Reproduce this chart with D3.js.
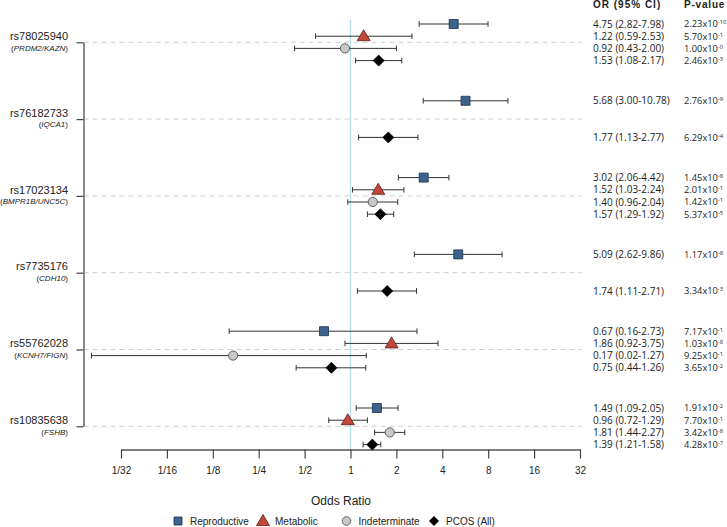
<!DOCTYPE html>
<html>
<head>
<meta charset="utf-8">
<script src="https://cdn.jsdelivr.net/npm/d3@7"></script>
<style>
  html, body { margin: 0; padding: 0; background: #fff; }
  svg { display: block; }
</style>
</head>
<body>
<svg id="chart" width="727" height="527"></svg>
<script>
// ---------------- DATA ----------------
const snps  = ["rs78025940", "rs76182733", "rs17023134", "rs7735176", "rs55762028", "rs10835638"];
const genes = ["PRDM2/KAZN", "IQCA1", "BMPR1B/UNC5C", "CDH10", "KCNH7/FIGN", "FSHB"];
const seriesNames = ["Reproductive", "Metabolic", "Indeterminate", "PCOS (All)"];

const reproOR = [4.75, 5.68, 3.02, 5.09, 0.67, 1.49];
const reproLo = [2.82, 3.00, 2.06, 2.62, 0.16, 1.09];
const reproHi = [7.98, 10.78, 4.42, 9.86, 2.73, 2.05];
const reproP  = ["2.23|-10", "2.76|-9", "1.45|-8", "1.17|-8", "7.17|-1", "1.91|-2"];

const metabOR = [1.22, null, 1.52, null, 1.86, 0.96];
const metabLo = [0.59, null, 1.03, null, 0.92, 0.72];
const metabHi = [2.53, null, 2.24, null, 3.75, 1.29];
const metabP  = ["5.70|-1", null, "2.01|-1", null, "1.03|-8", "7.70|-1"];

const indetOR = [0.92, null, 1.40, null, 0.17, 1.81];
const indetLo = [0.43, null, 0.96, null, 0.02, 1.44];
const indetHi = [2.00, null, 2.04, null, 1.27, 2.27];
const indetP  = ["1.00|-0", null, "1.42|-1", null, "9.25|-1", "3.42|-8"];

const pcosOR = [1.53, 1.77, 1.57, 1.74, 0.75, 1.39];
const pcosLo = [1.08, 1.13, 1.29, 1.11, 0.44, 1.21];
const pcosHi = [2.17, 2.77, 1.92, 2.71, 1.26, 1.58];
const pcosP  = ["2.46|-3", "6.29|-4", "5.37|-5", "3.34|-3", "3.65|-2", "4.28|-7"];

const tickValues = [1/32, 1/16, 1/8, 1/4, 1/2, 1, 2, 4, 8, 16, 32];
const tickLabels = ["1/32", "1/16", "1/8", "1/4", "1/2", "1", "2", "4", "8", "16", "32"];

// ---------------- BUILD ROWS ----------------
const seriesData = [
  [reproOR, reproLo, reproHi, reproP],
  [metabOR, metabLo, metabHi, metabP],
  [indetOR, indetLo, indetHi, indetP],
  [pcosOR, pcosLo, pcosHi, pcosP]
];
const rows = [];
snps.forEach((snp, i) => {
  seriesData.forEach((s, k) => {
    if (s[0][i] != null) {
      rows.push({snp, series: k, or: s[0][i], lo: s[1][i], hi: s[2][i], p: s[3][i]});
    }
  });
});

// ---------------- LAYOUT ----------------
const svg = d3.select("#chart");
const x = d3.scaleLog().base(2).domain([1/32, 32]).range([121, 580]);
const y = d3.scalePoint().domain(snps).range([42.3, 426.3]);
const rowStep = 12.2;
const rowY = d => y(d.snp) + (d.series - 1.5) * rowStep;
const axisY = 449.5;
const leftX = 83.5;

const colors = {
  repro: "#3c6390", reproStroke: "#1d2f47",
  metab: "#c0473a", metabStroke: "#5a1e16",
  indet: "#c8c8c8", indetStroke: "#555",
  pcos: "#000"
};

// gridlines
svg.append("g").selectAll("line").data(snps).join("line")
  .attr("x1", leftX).attr("x2", 582)
  .attr("y1", d => y(d)).attr("y2", d => y(d))
  .attr("stroke", "#cfcfcf").attr("stroke-width", 1)
  .attr("stroke-dasharray", "5,4");

// reference line at OR = 1
svg.append("line")
  .attr("x1", x(1)).attr("x2", x(1))
  .attr("y1", 20).attr("y2", axisY)
  .attr("stroke", "#b5dff0").attr("stroke-width", 1.3);

// left axis
const yAxis = svg.append("g")
  .attr("transform", `translate(${leftX},0)`)
  .call(d3.axisLeft(y).tickSize(7).tickSizeOuter(0).tickFormat(""));
yAxis.select(".domain").attr("stroke", "#666").attr("stroke-width", 1.5);
yAxis.selectAll(".tick line").attr("stroke", "#444").attr("stroke-width", 1.2);

// SNP labels
const labG = svg.append("g").attr("font-family", "Liberation Sans, Arial, sans-serif").attr("text-anchor", "end");
labG.selectAll("text.snp").data(snps).join("text")
  .attr("class", "snp")
  .attr("x", 68).attr("y", d => y(d) - 2.3)
  .attr("font-size", 11).attr("fill", "#222")
  .text(d => d);
labG.selectAll("text.gene").data(snps).join("text")
  .attr("class", "gene")
  .attr("x", 68).attr("y", (d) => y(d) + 8.3)
  .attr("font-size", 8).attr("fill", "#222")
  .each(function(d, i) {
    const t = d3.select(this);
    t.append("tspan").text("(");
    t.append("tspan").attr("font-style", "italic").text(genes[i]);
    t.append("tspan").text(")");
  });

// bottom axis
const xAxis = svg.append("g")
  .attr("transform", `translate(0,${axisY})`)
  .call(d3.axisBottom(x).tickValues(tickValues).tickSize(9).tickSizeOuter(0).tickPadding(8)
    .tickFormat((d, i) => tickLabels[i]));
xAxis.select(".domain").attr("stroke", "#555").attr("stroke-width", 1.5);
xAxis.selectAll(".tick line").attr("stroke", "#444").attr("stroke-width", 1.2);
xAxis.selectAll(".tick text").attr("font-family", "Liberation Sans, Arial, sans-serif")
  .attr("font-size", 10).attr("fill", "#222");

svg.append("text")
  .attr("x", 341).attr("y", 505)
  .attr("text-anchor", "middle")
  .attr("font-family", "Liberation Sans, Arial, sans-serif")
  .attr("font-size", 12).attr("fill", "#222")
  .text("Odds Ratio");

// error bars
const eb = svg.append("g").attr("stroke", "#333").attr("stroke-width", 1);
eb.selectAll("line.ci").data(rows).join("line").attr("class", "ci")
  .attr("x1", d => x(d.lo)).attr("x2", d => x(d.hi))
  .attr("y1", rowY).attr("y2", rowY);
eb.selectAll("line.capL").data(rows).join("line").attr("class", "capL")
  .attr("x1", d => x(d.lo)).attr("x2", d => x(d.lo))
  .attr("y1", d => rowY(d) - 2.8).attr("y2", d => rowY(d) + 2.8);
eb.selectAll("line.capR").data(rows).join("line").attr("class", "capR")
  .attr("x1", d => x(d.hi)).attr("x2", d => x(d.hi))
  .attr("y1", d => rowY(d) - 2.8).attr("y2", d => rowY(d) + 2.8);

// markers
function markerPath(k) {
  if (k === 0) return "M-4.5,-4.5H4.5V4.5H-4.5Z";
  if (k === 1) return "M0,-6.5L6.5,4.5H-6.5Z";
  if (k === 2) return null;
  return "M0,-5.5L5.5,0L0,5.5L-5.5,0Z";
}
function drawMarker(sel, k) {
  if (k === 2) {
    sel.append("circle").attr("r", 4.6)
      .attr("fill", colors.indet).attr("stroke", colors.indetStroke).attr("stroke-width", 0.9);
  } else {
    const fill = k === 0 ? colors.repro : k === 1 ? colors.metab : colors.pcos;
    const stroke = k === 0 ? colors.reproStroke : k === 1 ? colors.metabStroke : colors.pcos;
    sel.append("path").attr("d", markerPath(k))
      .attr("fill", fill).attr("stroke", stroke).attr("stroke-width", 0.8);
  }
}
svg.append("g").selectAll("g.m").data(rows).join("g").attr("class", "m")
  .attr("transform", d => `translate(${x(d.or)},${rowY(d)})`)
  .each(function(d) { drawMarker(d3.select(this), d.series); });

// right text columns
const txtFont = "Open Sans, Lato, sans-serif";
svg.append("text").attr("x", 593).attr("y", 8)
  .attr("font-family", "Liberation Sans, Arial, sans-serif").attr("font-weight", "bold")
  .attr("font-size", 10).attr("letter-spacing", 1).attr("fill", "#222")
  .text("OR (95% CI)");
svg.append("text").attr("x", 684).attr("y", 8)
  .attr("font-family", "Liberation Sans, Arial, sans-serif").attr("font-weight", "bold")
  .attr("font-size", 10).attr("letter-spacing", 0.8).attr("fill", "#222")
  .text("P-value");

const fmt = v => v.toFixed(2);
svg.append("g").selectAll("text").data(rows).join("text")
  .attr("x", 593).attr("y", d => rowY(d) + 3.5)
  .attr("font-family", txtFont).attr("font-size", 10).attr("fill", "#222")
  .text(d => `${fmt(d.or)} (${fmt(d.lo)}-${fmt(d.hi)})`);
svg.append("g").selectAll("text").data(rows).join("text")
  .attr("x", 684).attr("y", d => rowY(d) + 3.4)
  .attr("font-family", txtFont).attr("font-size", 9.3).attr("fill", "#222")
  .each(function(d) {
    const [m, e] = d.p.split("|");
    const t = d3.select(this);
    t.append("tspan").text(m + "x10");
    t.append("tspan").attr("dy", -3).attr("font-size", 5.8).text(e);
  });

// legend
const legend = svg.append("g").attr("font-family", "Liberation Sans, Arial, sans-serif")
  .attr("font-size", 10).attr("fill", "#222");
const legX = [178, 263, 346.5, 434];
seriesNames.forEach((name, k) => {
  const g = legend.append("g").attr("transform", `translate(${legX[k]},521)`);
  if (k === 0) g.append("path").attr("d", "M-4,-4H4V4H-4Z").attr("fill", colors.repro).attr("stroke", colors.reproStroke).attr("stroke-width", 0.8);
  if (k === 1) g.append("path").attr("d", "M0,-6.5L6.5,4.5H-6.5Z").attr("fill", colors.metab).attr("stroke", colors.metabStroke).attr("stroke-width", 0.8);
  if (k === 2) g.append("circle").attr("r", 4.3).attr("fill", colors.indet).attr("stroke", colors.indetStroke).attr("stroke-width", 0.9);
  if (k === 3) g.append("path").attr("d", "M0,-5L5,0L0,5L-5,0Z").attr("fill", "#000");
  g.append("text").attr("x", 12).attr("y", 0).attr("dy", "0.35em").text(name);
});
</script>
</body>
</html>
